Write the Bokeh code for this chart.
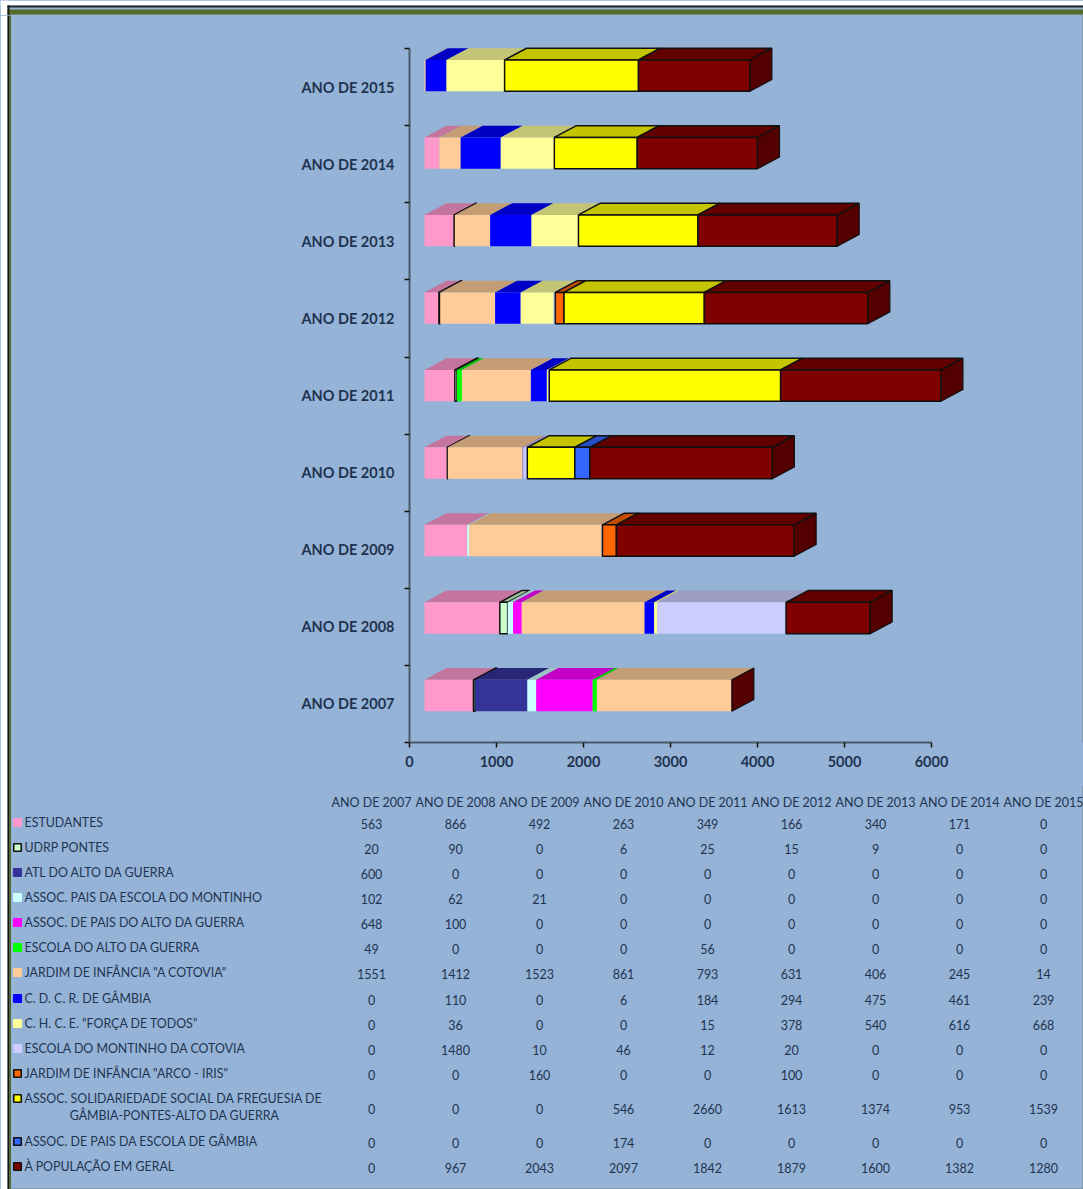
from bokeh.plotting import figure
from bokeh.layouts import column, row
from bokeh.models import FixedTicker, ColumnDataSource
from bokeh.core.properties import value
from bokeh.embed import file_html
from bokeh.resources import INLINE

years = ["ANO DE 2007", "ANO DE 2008", "ANO DE 2009", "ANO DE 2010", "ANO DE 2011",
         "ANO DE 2012", "ANO DE 2013", "ANO DE 2014", "ANO DE 2015"]

estudantes = [563, 866, 492, 263, 349, 166, 340, 171, 0]
udrp = [20, 90, 0, 6, 25, 15, 9, 0, 0]
atl = [600, 0, 0, 0, 0, 0, 0, 0, 0]
pais_montinho = [102, 62, 21, 0, 0, 0, 0, 0, 0]
pais_alto = [648, 100, 0, 0, 0, 0, 0, 0, 0]
escola_alto = [49, 0, 0, 0, 56, 0, 0, 0, 0]
cotovia = [1551, 1412, 1523, 861, 793, 631, 406, 245, 14]
cdcr = [0, 110, 0, 6, 184, 294, 475, 461, 239]
chce = [0, 36, 0, 0, 15, 378, 540, 616, 668]
escola_montinho = [0, 1480, 10, 46, 12, 20, 0, 0, 0]
arco_iris = [0, 0, 160, 0, 0, 100, 0, 0, 0]
solidariedade = [0, 0, 0, 546, 2660, 1613, 1374, 953, 1539]
pais_gambia = [0, 0, 0, 174, 0, 0, 0, 0, 0]
populacao = [0, 967, 2043, 2097, 1842, 1879, 1600, 1382, 1280]

series = [estudantes, udrp, atl, pais_montinho, pais_alto, escola_alto, cotovia, cdcr,
          chce, escola_montinho, arco_iris, solidariedade, pais_gambia, populacao]
names = ["ESTUDANTES", "UDRP PONTES", "ATL DO ALTO DA GUERRA",
         "ASSOC. PAIS DA ESCOLA DO MONTINHO", "ASSOC. DE PAIS DO ALTO DA GUERRA",
         "ESCOLA DO ALTO DA GUERRA", 'JARDIM DE INFÂNCIA "A COTOVIA"', "C. D. C. R. DE GÂMBIA",
         "C. H. C. E. “FORÇA DE TODOS”", "ESCOLA DO MONTINHO DA COTOVIA",
         'JARDIM DE INFÂNCIA "ARCO - IRIS"', "ASSOC. SOLIDARIEDADE SOCIAL DA FREGUESIA DE",
         "ASSOC. DE PAIS DA ESCOLA DE GÂMBIA", "À POPULAÇÃO EM GERAL"]
name_line2 = "GÂMBIA-PONTES-ALTO DA GUERRA"
colors = ["#FF99CC", "#CCFFCC", "#333399", "#CCFFFF", "#FF00FF", "#00FF00", "#FFCC99",
          "#0000FF", "#FFFF99", "#CCCCFF", "#FF6600", "#FFFF00", "#3366FF", "#800000"]
outlined = [False, True, False, False, False, False, False, False, False, False, True, True, True, True]

BG = "#95B3D7"
TXT = "#1F3350"
FONT = "Lato"
DARK, OLIVE, PALE, EDGE = "#14180C", "#546A2A", "#6F8C6E", "#6F8787"
W, H = 1083, 1189              # whole picture
HEAD_H, LEFT_W = 15, 11        # frame strips
H1 = 785 - HEAD_H
H2 = H - HEAD_H - H1
X0, Y0 = 409, 742              # picture position of the axes origin
PX_X = 0.087                   # pixels per unit
PX_Y = 77.1                    # pixels per category
# 3-D construction, in data units
BAR_SHIFT = 172
DEPTH_X = 253
BAR_LOW, BAR_H, DEPTH_Y, BAR_STEP = 0.406, 0.407, 0.152, 1.005
LEFT_B = X0 - LEFT_W
BOTTOM_B = HEAD_H + H1 - Y0
MAIN_W = W - LEFT_W
PAGE_STYLE = {"background-color": BG}


def shade(hex_color, f):
    r, g, b = (int(hex_color[i:i + 2], 16) for i in (1, 3, 5))
    return "#%02X%02X%02X" % (int(r * f), int(g * f), int(b * f))


def bands(p, items):
    """Flat strips of the outer frame, (x1, y1, x2, y2, colour) in picture pixels."""
    p.quad(left=[i[0] for i in items], top=[i[1] for i in items], right=[i[2] for i in items],
           bottom=[i[3] for i in items], fill_color=[i[4] for i in items], line_color=None)


def strip_figure(width, height, x1, y1):
    f = figure(width=width, height=height, output_backend="svg", toolbar_location=None,
               x_range=(x1, x1 + width), y_range=(y1 + height, y1),
               x_axis_type=None, y_axis_type=None, min_border=0, frame_align=False,
               background_fill_color=BG, border_fill_color=BG, outline_line_color=None,
               styles=PAGE_STYLE)
    f.grid.visible = False
    return f


head = strip_figure(W, HEAD_H, 0, 0)
bands(head, [(0, 0, W, 5, "#FFFFFF"), (0, 0, 7, HEAD_H, "#FFFFFF"), (7, 5, W, 7, "#20262E"),
             (7, 9, W, 14, OLIVE), (10, 14, W, 15, PALE), (7, 5, 9, HEAD_H, DARK),
             (9, 9, 10.5, HEAD_H, OLIVE)])

side = strip_figure(LEFT_W, H - HEAD_H, 0, HEAD_H)
bands(side, [(0, HEAD_H, 7, H, "#FFFFFF"), (7, HEAD_H, 9, H, DARK), (9, HEAD_H, 10.5, H, OLIVE)])

top = figure(width=MAIN_W, height=H1, output_backend="svg", toolbar_location=None,
             x_range=(0, (MAIN_W - LEFT_B) / PX_X),
             y_range=(0, (H1 - BOTTOM_B) / PX_Y),
             min_border_left=LEFT_B, min_border_right=0, min_border_top=0,
             min_border_bottom=BOTTOM_B, frame_align=False,
             background_fill_color=BG, border_fill_color=BG, outline_line_color=None,
             styles=PAGE_STYLE)
top.grid.visible = False

for k in range(len(years)):
    left = BAR_SHIFT
    low = k * BAR_STEP + BAR_LOW
    high = low + BAR_H
    for vals, col, edge in zip(series, colors, outlined):
        v = vals[k]
        if v == 0:
            continue
        right = left + v
        lw = 1.5 if edge else 0
        lc = "#111111" if edge else None
        top.patch([left, right, right + DEPTH_X, left + DEPTH_X],
                  [high, high, high + DEPTH_Y, high + DEPTH_Y],
                  fill_color=shade(col, 0.77), line_color=lc, line_width=lw)
        top.patch([left, right, right, left], [low, low, high, high],
                  fill_color=col, line_color=lc, line_width=lw)
        left = right
    top.patch([left, left + DEPTH_X, left + DEPTH_X, left],
              [low, low + DEPTH_Y, high + DEPTH_Y, high],
              fill_color=shade(colors[-1], 0.65), line_color="#111111", line_width=1.2)

xa = top.xaxis[0]
xa.ticker = FixedTicker(ticks=[0, 1000, 2000, 3000, 4000, 5000, 6000])
xa.bounds = (0, 6000)
xa.major_tick_in = 0
xa.major_tick_out = 5
xa.minor_tick_out = 0
xa.minor_tick_in = 0
xa.axis_line_color = "#4A5868"
xa.axis_line_width = 2
xa.major_tick_line_color = "#111111"
xa.major_tick_line_width = 1.5
xa.major_label_text_font = FONT
xa.major_label_text_font_size = "14.5px"
xa.major_label_text_font_style = "bold"
xa.major_label_text_color = TXT
xa.major_label_standoff = 8

ya = top.yaxis[0]
ya.ticker = FixedTicker(ticks=[i + 0.5 for i in range(len(years))],
                        minor_ticks=list(range(len(years) + 1)))
ya.bounds = (0, len(years))
ya.major_label_overrides = {i + 0.5: y for i, y in enumerate(years)}
ya.major_tick_in = 0
ya.major_tick_out = 0
ya.minor_tick_in = 0
ya.minor_tick_out = 5
ya.minor_tick_line_color = "#111111"
ya.minor_tick_line_width = 1.5
ya.axis_line_color = "#4A5868"
ya.axis_line_width = 2
ya.major_label_text_font = FONT
ya.major_label_text_font_size = "14.5px"
ya.major_label_text_font_style = "bold"
ya.major_label_text_color = TXT
ya.major_label_standoff = 10

# thin right edge of the frame, beside the chart
top.quad(left=[(MAIN_W - LEFT_B - 1) / PX_X], right=[(MAIN_W - LEFT_B) / PX_X], bottom=[-1], top=[10],
         fill_color=EDGE, line_color=None)

# ------ data table -------
COL_X0, COL_DX = 371, 84
HEAD_Y = 802
row_y = [822, 847, 872, 897, 922, 947, 972, 998, 1023, 1048, 1073, 1107, 1141, 1166]
SW_X, LABEL_X = 17, 24

tb = strip_figure(MAIN_W, H2, LEFT_W, HEAD_H + H1)

col_x = [COL_X0 + COL_DX * i for i in range(len(years))]
tb.text(col_x, [HEAD_Y] * len(years), text=years, text_font=value(FONT), text_font_size="12.5px",
        text_color=TXT, text_align="center", text_baseline="middle")

xs, ys, ts = [], [], []
for vals, y in zip(series, row_y):
    for x, v in zip(col_x, vals):
        xs.append(x)
        ys.append(y + 1)
        ts.append(str(v))
tb.text(xs, ys, text=ts, text_font=value(FONT), text_font_size="12.5px", text_color=TXT,
        text_align="center", text_baseline="middle")

label_y = list(row_y)
label_y[11] = 1098
tb.text([LABEL_X] * len(names), label_y, text=names, text_font=value(FONT), text_font_size="12.4px",
        text_color=TXT, text_align="left", text_baseline="middle")
tb.text([174], [1115], text=[name_line2], text_font=value(FONT), text_font_size="12.4px",
        text_color=TXT, text_align="center", text_baseline="middle")

sw = ColumnDataSource(dict(x=[SW_X] * len(names), y=label_y, c=colors,
                           lc=["#111111" if e else c for e, c in zip(outlined, colors)]))
tb.rect("x", "y", width=7.5, height=7.5, source=sw, fill_color="c", line_color="lc", line_width=1.6)

bands(tb, [(W - 1, 785, W, H, EDGE), (LEFT_W, H - 1, W, H, EDGE)])

root = column(head, row(side, column(top, tb, spacing=0, styles=PAGE_STYLE), spacing=0, styles=PAGE_STYLE),
              spacing=0)
open("out.html", "w").write(file_html(root, INLINE))
